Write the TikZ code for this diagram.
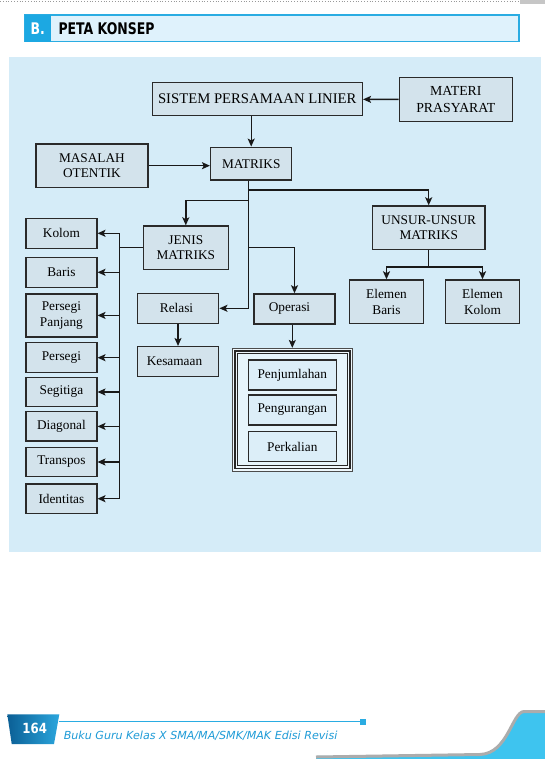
\documentclass[tikz,border=0pt]{standalone}
\usepackage{fontspec}
\setmainfont{Liberation Serif}
\newfontfamily\hdrfont[FakeStretch=0.78]{DejaVu Sans}
\newfontfamily\pgfont[FakeStretch=0.84]{DejaVu Sans}
\newfontfamily\footfont{DejaVu Sans}
\usetikzlibrary{arrows.meta,calc}
\definecolor{panel}{HTML}{D5ECF8}
\definecolor{boxfill}{HTML}{D3E3EC}
\definecolor{opfill}{HTML}{DCEEF8}
\definecolor{boxline}{HTML}{2A2A2A}
\definecolor{hdrfill}{HTML}{DFF2FC}
\definecolor{hdrline}{HTML}{2AACE2}
\definecolor{hdrblue}{HTML}{1CA8E2}
\definecolor{footblue}{HTML}{1E9BD7}
\definecolor{swcyan}{HTML}{3EC4EF}
\definecolor{pgdark}{HTML}{0B5F95}
\definecolor{pglight}{HTML}{2BA6DD}
\tikzset{
  cbox/.style={draw=boxline, fill=boxfill, line width=1.5pt, inner sep=0pt, align=center,
    font=\fontsize{13.3}{15.5}\selectfont},
  opbox/.style={cbox, fill=opfill},
  arr/.style={draw=black!90, line width=1.4pt, -{Stealth[length=8pt,width=7pt,inset=1.8pt]}},
  ln/.style={draw=black!90, line width=1.4pt},
}
\begin{document}
\begin{tikzpicture}[x=1pt,y=-1pt]
\useasboundingbox (0,0) rectangle (545,759);
\fill[white] (0,0) rectangle (545,759);
% top decoration
\draw[gray!80, dotted, line width=0.8pt] (0,1.5) -- (520,1.5);
\fill[gray!45] (520,0) rectangle (545,4);
% header
\fill[hdrfill] (25,15) rectangle (519,41.7);
\draw[hdrline, line width=1.2pt] (25,15) rectangle (519,41.7);
\fill[hdrblue] (25,15) rectangle (50.7,41.7);
\node[inner sep=0pt, text=white, font=\hdrfont\bfseries\fontsize{16}{18}\selectfont] (hb) at (37.8,28.6) {B.};
\node[inner sep=0pt, anchor=west, text=black, font=\hdrfont\bfseries\fontsize{16}{18}\selectfont] (ht) at (58.3,28.6) {PETA KONSEP};
% panel
\fill[panel] (9,56.7) rectangle (541,551.7);

% top boxes
\node[cbox, minimum width=210pt, minimum height=33pt, font=\fontsize{14.7}{17}\selectfont] (sis) at (257.3,99.2) {SISTEM PERSAMAAN LINIER};
\node[cbox, minimum width=113pt, minimum height=43.6pt, font=\fontsize{13.8}{17.5}\selectfont] (mat) at (455.8,99.5) {MATERI\\PRASYARAT};
\node[cbox, minimum width=112.2pt, minimum height=43.3pt] (mas) at (91.9,165.7) {MASALAH\\OTENTIK};
\node[cbox, minimum width=81pt, minimum height=32.7pt] (matriks) at (251.2,163.7) {MATRIKS};
\node[cbox, minimum width=85pt, minimum height=43.3pt] (jenis) at (185.8,247.7) {JENIS\\MATRIKS};
\node[cbox, minimum width=112.7pt, minimum height=43.3pt] (unsur) at (428.7,227.7) {UNSUR-UNSUR\\MATRIKS};

% left column
\node[cbox, minimum width=70.7pt, minimum height=30pt] (kolom) at (61.4,233.3) {Kolom};
\node[cbox, minimum width=70.7pt, minimum height=30pt] (baris) at (61.4,272.3) {Baris};
\node[cbox, minimum width=70.7pt, minimum height=42.7pt] (ppanjang) at (61.4,315.4) {Persegi\\Panjang};
\node[cbox, minimum width=70.7pt, minimum height=30pt] (persegi) at (61.4,357.7) {Persegi};
\node[cbox, minimum width=70.7pt, minimum height=29.4pt] (segitiga) at (61.4,392) {Segitiga};
\node[cbox, minimum width=70.7pt, minimum height=29.4pt] (diagonal) at (61.4,426.4) {Diagonal};
\node[cbox, minimum width=70.7pt, minimum height=29.4pt] (transpos) at (61.4,462) {Transpos};
\node[cbox, minimum width=70.7pt, minimum height=29.4pt] (identitas) at (61.4,498.7) {Identitas};

% middle
\node[cbox, minimum width=81.4pt, minimum height=30pt] (relasi) at (178,308.3) {Relasi\hspace*{3pt}};
\node[cbox, minimum width=81.4pt, minimum height=30pt] (kesamaan) at (178,361.7) {Kesamaan\hspace*{7pt}};
\node[cbox, minimum width=81pt, minimum height=30pt] (operasi) at (294.5,309) {Operasi\hspace*{10pt}};
\node[cbox, minimum width=73.6pt, minimum height=43.3pt] (ebaris) at (386.5,301.7) {Elemen\\Baris};
\node[cbox, minimum width=73.6pt, minimum height=43.3pt] (ekolom) at (482.5,301.7) {Elemen\\Kolom};

% operations frame
\node[draw=gray!60!black, line width=0.9pt, fill=panel!40!white, minimum width=120pt, minimum height=122.7pt, inner sep=0pt] (ops) at (292.3,409.7) {};
\draw[line width=1.8pt, black!85] ([shift={(3pt,-3pt)}]ops.north west) rectangle ([shift={(-3pt,3pt)}]ops.south east);
\draw[line width=0.9pt, black!85, fill=panel!60!white] ([shift={(5.8pt,-5.8pt)}]ops.north west) rectangle ([shift={(-5.8pt,5.8pt)}]ops.south east);
\node[opbox, minimum width=88pt, minimum height=30pt] (pjum) at (292.3,375) {Penjumlahan};
\node[opbox, minimum width=88pt, minimum height=30pt] (pkur) at (292.3,410) {Pengurangan};
\node[opbox, minimum width=88pt, minimum height=30pt] (pkal) at (292.3,446.7) {Perkalian};

% connectors
\draw[arr] (mat) -- (sis);
\draw[arr] (sis.south -| matriks) -- (matriks.north);
\draw[arr] (mas) -- (mas -| matriks.west);
\coordinate (t0) at ([xshift=-2.5pt]matriks.south);
\path (t0) ++(0,9.3) coordinate (jr);
\path (t0) ++(0,20) coordinate (jl);
\draw[arr] (t0) |- (relasi.east);
\draw[arr] (jr) -| (unsur.north);
\draw[arr] (jl) -| (jenis.north);
\draw[arr] (t0 |- jenis.east) -| (operasi.north);
\coordinate (bus) at (119.3,233.3);
\draw[ln] (jenis.west) -- (jenis.west -| bus);
\draw[ln] (bus |- kolom.east) -- (bus |- identitas.east);
\foreach \n in {kolom,baris,ppanjang,persegi,segitiga,diagonal,transpos,identitas}
  \draw[arr] (bus |- \n.east) -- (\n.east);
\draw[arr] (relasi) -- (kesamaan);
\draw[arr] (operasi.south -| ops) -- (ops.north);
\draw[ln] (unsur.south) -- ++(0,16.7) coordinate (ue);
\draw[arr] (ue) -| (ebaris.north);
\draw[arr] (ue) -| (ekolom.north);

% footer
\shade[left color=pgdark, right color=pglight] (7.3,714.3) -- (59.3,714.3) -- (54,744) -- (11.7,744) -- cycle;
\node[inner sep=0pt, text=white, font=\pgfont\bfseries\fontsize{14}{16}\selectfont] (pg) at (34.7,728.8) {164};
\draw[hdrline, line width=1.1pt] (59.3,721.5) -- (362,721.5);
\fill[hdrline] (360,718.5) rectangle (366,724.5);
\node[inner sep=0pt, anchor=base west, text=footblue, font=\footfont\itshape\fontsize{11.1}{13}\selectfont] (ft) at (63.6,739) {Buku Guru Kelas X SMA/MA/SMK/MAK Edisi Revisi};
\fill[swcyan] (545,711) -- (524,711) .. controls (512,711) and (510,753) .. (480,754) -- (316,756) -- (316,759) -- (545,759) -- cycle;
\draw[gray!65, line width=3pt] (316,757) -- (480,754.5) .. controls (508,753.5) and (512,712) .. (524,711.5) -- (545,711.5);
\end{tikzpicture}
\end{document}
